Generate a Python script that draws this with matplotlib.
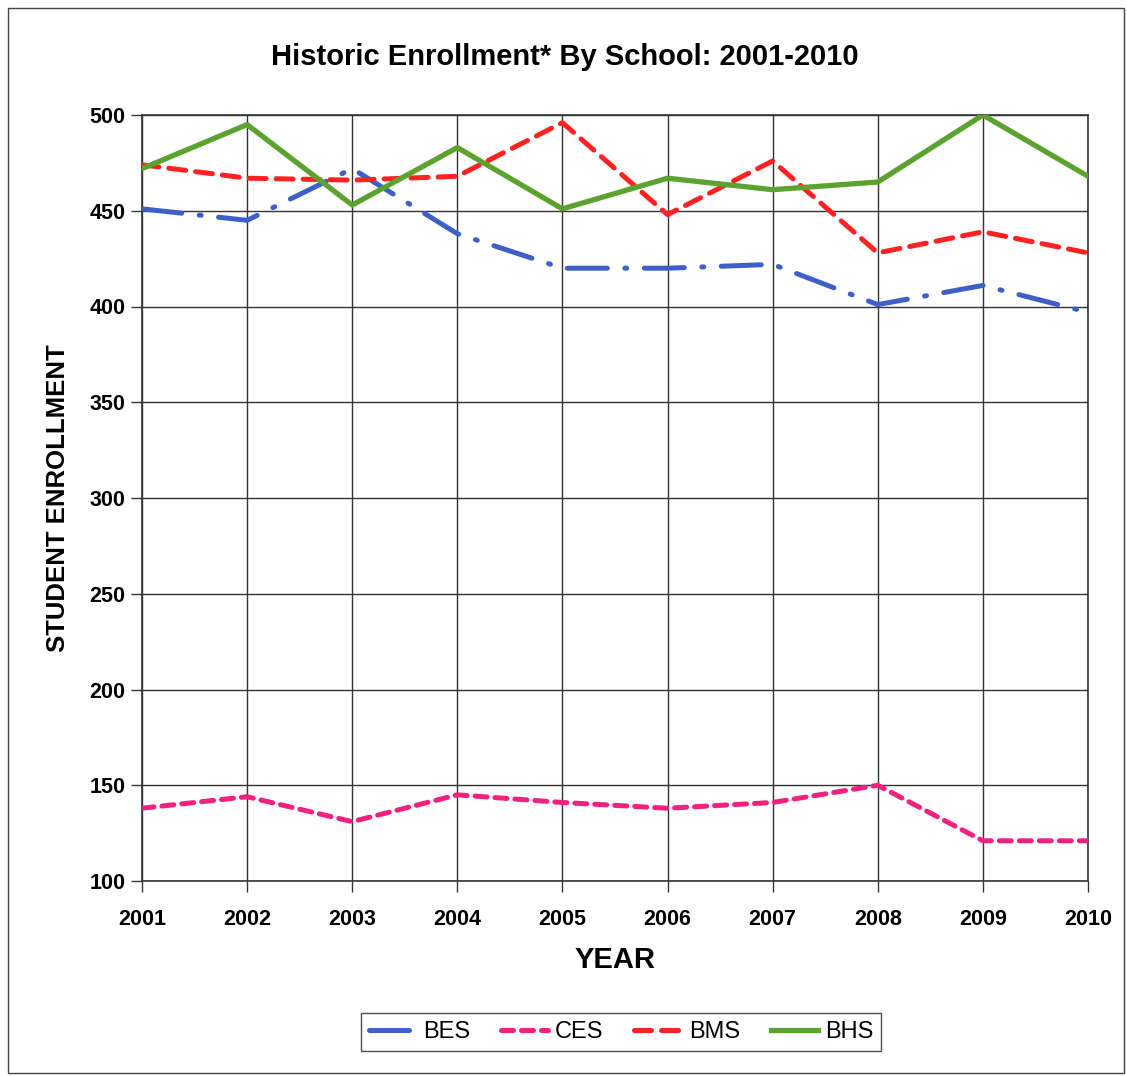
import matplotlib
matplotlib.use("Agg")
import matplotlib.pyplot as plt
from matplotlib.patches import Rectangle

years = [2001, 2002, 2003, 2004, 2005, 2006, 2007, 2008, 2009, 2010]
bes = [451, 445, 472, 438, 420, 420, 422, 401, 411, 397]
ces = [138, 144, 131, 145, 141, 138, 141, 150, 121, 121]
bms = [474, 467, 466, 468, 496, 448, 476, 428, 439, 428]
bhs = [472, 495, 453, 483, 451, 467, 461, 465, 500, 468]
y_ticks = [100, 150, 200, 250, 300, 350, 400, 450, 500]

plt.rcParams["font.family"] = ["Liberation Sans", "DejaVu Sans"]

W, H = 1127, 1076
fig = plt.figure(figsize=(W / 100, H / 100), dpi=100)
ax = fig.add_axes([142 / W, 1 - 881 / H, (1088 - 142) / W, (881 - 115) / H])

ax.plot(years, bes, color="#3F5FC8", lw=3.6, linestyle=(0, (8, 3.5, 0.4, 3.5)),
        dash_capstyle="round", solid_capstyle="round", label="BES", zorder=3)
ax.plot(years, ces, color="#F2207F", lw=3.6, linestyle=(0, (2.4, 1.6)),
        dash_capstyle="round", label="CES", zorder=3)
ax.plot(years, bms, color="#FF2222", lw=3.6, linestyle=(0, (3.4, 2.0)),
        dash_capstyle="round", label="BMS", zorder=3)
ax.plot(years, bhs, color="#5CA22E", lw=3.8, linestyle="-", label="BHS", zorder=3)

ax.set_xlim(2001, 2010)
ax.set_ylim(100, 500)
ax.set_xticks(years)
ax.set_yticks(y_ticks)
ax.grid(True, color="#333333", lw=1.0)
ax.set_axisbelow(True)
for s in ax.spines.values():
    s.set_color("#333333")
    s.set_linewidth(1.2)
ax.tick_params(axis="both", labelsize=15.5, length=8, width=1, color="#333333")
ax.tick_params(axis="x", pad=12)
ax.tick_params(axis="y", pad=4)
for lab in ax.get_xticklabels() + ax.get_yticklabels():
    lab.set_fontweight("bold")

ax.set_xlabel("YEAR", fontsize=21, fontweight="bold", labelpad=12)
ax.set_ylabel("STUDENT ENROLLMENT", fontsize=18.5, fontweight="bold", labelpad=14)
fig.text(565 / W, 1 - 57 / H, "Historic Enrollment* By School: 2001-2010",
         ha="center", va="center", fontsize=21, fontweight="bold")

leg = fig.legend(loc="center", bbox_to_anchor=(621 / W, 1 - 1032 / H), ncol=4,
                 fontsize=17, frameon=True, fancybox=False, handlelength=2.0,
                 columnspacing=1.3, handletextpad=0.3, borderpad=0.35)
leg.get_frame().set_edgecolor("#222222")
leg.get_frame().set_linewidth(1.0)

fig.patches.append(Rectangle((8 / W, 3 / H), (1124 - 8) / W, (1068 - 3) / H,
                             transform=fig.transFigure, fill=False,
                             edgecolor="#444444", lw=1.0))

fig.savefig("out.png", dpi=100)
